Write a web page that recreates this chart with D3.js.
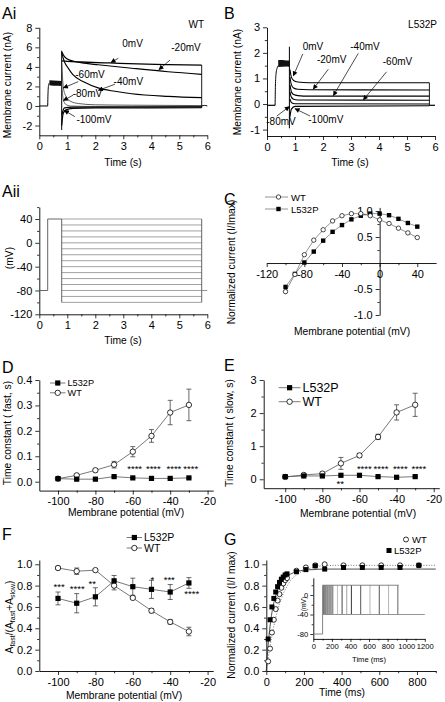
<!DOCTYPE html>
<html><head><meta charset="utf-8">
<script src="https://cdn.jsdelivr.net/npm/d3@7"></script>
<style>
body{margin:0;background:#fff}
svg{display:block}
text{font-family:"Liberation Sans",Arial,Helvetica,sans-serif}
</style></head>
<body><svg id="c" width="445" height="702"></svg>
<script>
// ======================= DATA =======================
// Panel Ai (WT currents): [time s, current nA]
const aiBaseline = [[0,0],[0.3,0]];
const aiRise = [[0.3,0],[0.31,1.2],[0.33,2.1],[0.36,2.35]];
const aiBandTime = [0.36,0.5,0.65,0.8];
const aiBandTop = [2.62,2.6,2.58,2.56];
const aiBandBottom = [2.12,2.08,2.06,2.04];
const aiSpike = [[0.8,-2.45],[0.8,5.65]];
const ai0mV = [[0.8,4.62],[1.0,4.56],[1.5,4.5],[2.5,4.4],[3.5,4.3],[4.5,4.24],[5.8,4.18]];
const aiM20 = [[0.8,5.55],[0.9,5.05],[1.0,4.8],[1.2,4.6],[1.6,4.38],[2.1,4.22],[3.3,3.86],[4.6,3.5],[5.8,3.24]];
const aiM40 = [[0.8,5.4],[0.9,4.5],[1.05,3.8],[1.2,3.2],[1.6,2.45],[2.1,1.85],[2.7,1.5],[3.3,1.25],[4.6,0.98],[5.8,0.85]];
const aiM60 = [[0.8,4.4],[0.86,1.85],[0.95,1.0],[1.1,0.5],[1.4,0.25],[2.0,0.12],[3.3,0.08],[5.8,0.04]];
const aiM80 = [[0.8,2.2],[0.86,0.6],[0.95,0.15],[1.1,0.0],[2.0,-0.05],[5.8,-0.05]];
const aiM90 = [[0.8,-0.9],[0.9,-0.2],[1.2,-0.12],[5.8,-0.1]];
const aiM100 = [[0.8,-2.0],[0.85,-0.8],[0.95,-0.4],[1.2,-0.25],[2.0,-0.2],[5.8,-0.18]];
const aiReturn = [[5.8,4.18],[5.8,-0.2]];
const aiTail = [[5.8,0],[5.9,0.06],[6.0,0]];
// Ai labels: [text, labelT, labelI, arrowFromT, arrowFromI, arrowToT, arrowToI]
const aiLabels = [
  ["0mV",3.33,6.0,2.82,4.88,2.56,4.45],
  ["-20mV",5.24,5.63,4.67,4.7,4.27,3.72],
  ["-60mV",1.81,2.87,1.39,2.49,0.86,1.85],
  ["-40mV",3.18,2.1,2.7,2.22,2.11,1.6],
  ["-80mV",1.72,0.87,1.21,1.12,0.86,0.55],
  ["-100mV",1.95,-1.79,1.27,-1.09,0.89,-0.45]
];

// Panel B (L532P currents): [time s, current nA]
const bBaseline = [[0,-0.05],[0.29,-0.05]];
const bRise = [[0.29,-0.05],[0.3,0.7],[0.32,1.15],[0.36,1.4],[0.4,1.5]];
const bBandTime = [0.4,0.55,0.7,0.8];
const bBandTop = [1.72,1.72,1.7,1.7];
const bBandBottom = [1.45,1.46,1.47,1.46];
const bSpike = [[0.8,-0.95],[0.8,2.24]];
const b0mV = [[0.82,1.35],[0.87,1.05],[0.95,0.92],[1.1,0.86],[1.5,0.83],[5.8,0.83]];
const bM20 = [[0.82,1.05],[0.87,0.76],[0.95,0.63],[1.1,0.58],[1.5,0.56],[5.8,0.55]];
const bM40 = [[0.82,0.75],[0.87,0.48],[0.95,0.37],[1.1,0.33],[1.5,0.31],[5.8,0.31]];
const bM60 = [[0.82,0.48],[0.87,0.27],[0.95,0.19],[1.1,0.16],[5.8,0.15]];
const bM80 = [[0.82,0.2],[0.87,0.06],[1.0,0.01],[5.8,0.0]];
const bM100 = [[0.82,-0.5],[0.87,-0.2],[1.0,-0.09],[5.8,-0.07]];
const bReturn = [[5.8,0.83],[5.8,-0.07]];
const bTail = [[5.8,-0.05],[6.0,-0.05]];
const bLabels = [
  ["0mV",1.64,2.13,1.28,1.96,0.94,1.1],
  ["-20mV",2.31,1.61,2.19,1.36,1.65,0.58],
  ["-40mV",3.5,2.11,3.26,1.98,2.37,0.33],
  ["-60mV",4.66,1.52,4.27,1.26,3.44,0.16],
  ["-80mV",0.5,-0.82,0.35,-0.47,0.8,-0.1],
  ["-100mV",2.1,-0.74,1.54,-0.47,1.0,-0.18]
];

// Panel Aii protocol
const protoHold = -80;
const protoPre = 40;
const protoTimes = [0, 0.3, 0.8, 5.8, 6.0];
const protoSteps = [-100,-90,-80,-70,-60,-50,-40,-30,-20,-10,0,10,20,30,40];

// Panel C: normalized I-V
const cVoltage = [-100,-90,-80,-70,-60,-50,-40,-30,-20,-10,0,10,20,30,40];
const cWT =    [-0.55,-0.22,0.16,0.44,0.64,0.81,0.91,0.95,0.95,0.91,0.83,0.76,0.67,0.58,0.49];
const cWTerr = [0.05,0.03,0.02,0.02,0.02,0.02,0.01,0.01,0.01,0.01,0.01,0.01,0.01,0.01,0.02];
const cL532P = [-0.46,-0.21,0.01,0.22,0.43,0.6,0.73,0.84,0.91,0.95,0.95,0.92,0.85,0.77,0.7];
const cL532Perr = [0.04,0.02,0.02,0.02,0.02,0.02,0.01,0.01,0.01,0.01,0.01,0.01,0.01,0.02,0.03];

// Panels D, E, F
const dfVoltage = [-100,-90,-80,-70,-60,-50,-40,-30];
const dWT = [0.012,0.025,0.045,0.067,0.118,0.18,0.272,0.302];
const dWTerr = [0.002,0.004,0.006,0.013,0.02,0.025,0.048,0.062];
const dL532P = [0.012,0.010,0.010,0.020,0.015,0.013,0.013,0.015];
const dL532Perr = [0.001,0.001,0.001,0.002,0.001,0.001,0.001,0.001];
const dStars = [["****",-59,0.059],["****",-49,0.059],["****",-38,0.059],["****",-29,0.059]];

const eWT = [0.07,0.13,0.17,0.48,0.72,1.28,2.02,2.25];
const eWTerr = [0.02,0.03,0.04,0.18,0.06,0.08,0.23,0.35];
const eL532P = [0.08,0.1,0.1,0.12,0.12,0.08,0.06,0.08];
const eL532Perr = [0.01,0.01,0.01,0.01,0.01,0.01,0.01,0.01];
const eStars = [["**",-70.4,-0.09],["****",-57.4,0.36],["****",-48.4,0.36],["****",-38,0.36],["****",-28,0.36]];

const fWT = [0.965,0.935,0.945,0.80,0.685,0.565,0.46,0.37];
const fWTerr = [0.015,0.03,0.01,0.04,0.01,0.02,0.02,0.04];
const fL532P = [0.68,0.635,0.695,0.845,0.79,0.765,0.74,0.825];
const fL532Perr = [0.06,0.09,0.085,0.05,0.08,0.085,0.07,0.05];
const fStars = [["***",-99.4,0.806],["****",-89.7,0.785],["**",-81.7,0.837],["*",-49.6,0.874],["***",-40.5,0.874],["****",-28.5,0.738]];

// Panel G: recovery from inactivation
const gTime = [10,20,30,40,50,60,70,80,90,100,110,160,210,260,310,410,510,610,710,810];
const gWT =    [0.09,0.21,0.36,0.48,0.58,0.66,0.72,0.78,0.82,0.85,0.87,0.94,0.97,0.99,1.0,0.99,0.99,0.99,0.99,0.99];
const gL532P = [0.30,0.48,0.60,0.68,0.74,0.79,0.83,0.86,0.88,0.90,0.91,0.93,0.95,0.985,0.955,0.97,0.97,0.97,0.97,0.99];
const gFitTime = [0,10,20,30,40,60,80,100,130,160,200,250,300,400,900];
const gFitWT =    [0,0.12,0.23,0.33,0.42,0.57,0.68,0.76,0.85,0.9,0.94,0.97,0.985,0.99,0.99];
const gFitL532P = [0,0.25,0.42,0.55,0.64,0.76,0.83,0.87,0.91,0.93,0.945,0.95,0.955,0.955,0.955];
// inset protocol (ms, mV)
const inHold = -80, inPulse = 20, inInter = -40;
const inTimes = [0, 100, 920, 1200];
const inTestOnsets = [110,120,130,140,150,160,170,180,190,200,210,260,310,360,410,510,610,710,810,910];

// ======================= DRAWING =======================
const FONT = '"Liberation Sans",Arial,Helvetica,sans-serif';
const svg = d3.select('#c');
svg.append('rect').attr('width',445).attr('height',702).attr('fill','#fff');
const defs = svg.append('defs');
defs.append('marker').attr('id','arr').attr('viewBox','0 0 10 10').attr('refX',9).attr('refY',5)
  .attr('markerWidth',6).attr('markerHeight',5).attr('markerUnits','userSpaceOnUse')
  .attr('orient','auto').append('path').attr('d','M0,0L10,5L0,10z').attr('fill','#000');

function axis(gen, scale, tr, majors, minors, fmt, fs, size) {
  size = size || 4;
  const g = svg.append('g').attr('transform', tr);
  if (minors && minors.length) {
    const m = svg.append('g').attr('transform', tr)
      .call(gen(scale).tickValues(minors).tickSize(size*0.55).tickSizeOuter(0).tickFormat(''));
    m.select('.domain').remove();
    m.selectAll('line').attr('stroke','#000').attr('stroke-width',0.8);
  }
  g.call(gen(scale).tickValues(majors).tickSize(size).tickSizeOuter(0).tickPadding(fs>9?3:2).tickFormat(fmt));
  g.attr('font-family', FONT).attr('font-size', fs);
  g.selectAll('text').attr('fill','#000');
  g.selectAll('line').attr('stroke','#000').attr('stroke-width',0.8);
  g.select('.domain').attr('stroke','#000').attr('stroke-width',0.9);
  return g;
}
function text(x, y, s, fs, anchor, rot, weight) {
  const t = svg.append('text').attr('font-size', fs).attr('text-anchor', anchor||'start').attr('fill','#000');
  if (rot) t.attr('transform', `translate(${x},${y}) rotate(${rot})`); else t.attr('x',x).attr('y',y);
  if (weight) t.attr('font-weight',weight);
  t.text(s);
  return t;
}
function path(pts, x, y, stroke, w, curve, dash) {
  const ln = d3.line().x(d=>x(d[0])).y(d=>y(d[1])).curve(curve||d3.curveLinear);
  const p = svg.append('path').attr('d', ln(pts)).attr('fill','none').attr('stroke',stroke).attr('stroke-width',w);
  if (dash) p.attr('stroke-dasharray', dash);
  return p;
}
const fmtInt = d => String(d);
const fmt1 = d => d.toFixed(1);
const LT = 11, TT = 10.3;

// ---------- Panel Ai ----------
{
  const x = d3.scaleLinear([0,6],[39.3,207.3]);
  const y = d3.scaleLinear([-3,8.05],[135.3,27.3]);
  axis(d3.axisBottom, x, `translate(0,${y(-3)})`, [0,1,2,3,4,5,6], [0.5,1.5,2.5,3.5,4.5,5.5], fmtInt, LT);
  axis(d3.axisLeft, y, `translate(${x(0)},0)`, [-2,0,2,4,6,8], [-1,1,3,5,7], fmtInt, LT);
  text(2,19,'Ai',16);
  text(204,28,'WT',10,'end');
  text(11,85,'Membrane current (nA)',TT,'middle',-90);
  text(123,166,'Time (s)',TT,'middle');
  path(aiBaseline,x,y,'#000',1);
  path(aiRise,x,y,'#000',1,d3.curveMonotoneX);
  const band = aiBandTime.map((t,i)=>[t,aiBandTop[i],aiBandBottom[i]]);
  svg.append('path').attr('d', d3.area().x(d=>x(d[0])).y0(d=>y(d[2])).y1(d=>y(d[1]))(band)).attr('fill','#111');
  path(aiSpike,x,y,'#000',1);
  [[ai0mV,'#000',1.3],[aiM20,'#000',1.2],[aiM40,'#000',1.1],[aiM60,'#333',0.8],[aiM80,'#444',0.8],[aiM90,'#000',1.2],[aiM100,'#000',1.2]]
    .forEach(([d,c,w])=>path(d,x,y,c,w,d3.curveMonotoneX));
  path(aiReturn,x,y,'#000',0.9);
  path(aiTail,x,y,'#000',1,d3.curveMonotoneX);
  aiLabels.forEach(a=>{
    text(x(a[1]),y(a[2]),a[0],10,'middle');
    svg.append('line').attr('x1',x(a[3])).attr('y1',y(a[4])).attr('x2',x(a[5])).attr('y2',y(a[6]))
      .attr('stroke','#000').attr('stroke-width',0.7).attr('marker-end','url(#arr)');
  });
}

// ---------- Panel B ----------
{
  const x = d3.scaleLinear([0,6],[267,435]);
  const y = d3.scaleLinear([-1.25,3],[136,27.3]);
  axis(d3.axisBottom, x, `translate(0,${y(-1.25)})`, [0,1,2,3,4,5,6], [0.5,1.5,2.5,3.5,4.5,5.5], fmtInt, LT);
  axis(d3.axisLeft, y, `translate(${x(0)},0)`, [-1,0,1,2,3], [-0.5,0.5,1.5,2.5], fmtInt, LT);
  text(224,19,'B',16);
  text(437,28,'L532P',10,'end');
  text(241,82,'Membrane current (nA)',TT,'middle',-90);
  text(350,166,'Time (s)',TT,'middle');
  path(bBaseline,x,y,'#000',1.2);
  path(bRise,x,y,'#000',1,d3.curveMonotoneX);
  const band = bBandTime.map((t,i)=>[t,bBandTop[i],bBandBottom[i]]);
  svg.append('path').attr('d', d3.area().x(d=>x(d[0])).y0(d=>y(d[2])).y1(d=>y(d[1]))(band)).attr('fill','#111');
  path(bSpike,x,y,'#000',1);
  [b0mV,bM20,bM40,bM60,bM80,bM100].forEach(d=>path(d,x,y,'#000',1.1,d3.curveMonotoneX));
  path(bReturn,x,y,'#000',0.9);
  path(bTail,x,y,'#000',1.2);
  bLabels.forEach(a=>{
    text(x(a[1]),y(a[2]),a[0],10,'middle');
    svg.append('line').attr('x1',x(a[3])).attr('y1',y(a[4])).attr('x2',x(a[5])).attr('y2',y(a[6]))
      .attr('stroke','#000').attr('stroke-width',0.7).attr('marker-end','url(#arr)');
  });
}

// ---------- Panel Aii ----------
{
  const x = d3.scaleLinear([0,6],[39.3,207.3]);
  const y = d3.scaleLinear([-120,60],[314.3,207.1]);
  axis(d3.axisBottom, x, `translate(0,${y(-120)})`, [0,1,2,3,4,5,6], [0.5,1.5,2.5,3.5,4.5,5.5], fmtInt, LT);
  axis(d3.axisLeft, y, `translate(${x(0)},0)`, [-120,-80,-40,0,40], [-100,-60,-20,20,60], fmtInt, LT);
  text(2,197,'Aii',16);
  text(13,258,'(mV)',TT,'middle',-90);
  text(123,344,'Time (s)',TT,'middle');
  const [t0,t1,t2,t3,t4] = protoTimes;
  protoSteps.forEach(v=>path([[t2,v],[t3,v]],x,y,'#8a8a8a',0.8));
  path([[t0,protoHold],[t1,protoHold],[t1,protoPre],[t2,protoPre]],x,y,'#555',0.9);
  path([[t2,protoPre],[t2,protoSteps[0]]],x,y,'#555',0.9);
  path([[t3,protoPre],[t3,protoSteps[0]]],x,y,'#555',0.9);
  path([[t3,protoHold],[t4,protoHold]],x,y,'#777',0.8);
}

// ---------- Panel C ----------
{
  const x = d3.scaleLinear([-120,60],[266.7,436.1]);
  const y = d3.scaleLinear([-1,1.07],[315,207.4]);
  axis(d3.axisBottom, x, `translate(0,${y(0)})`, [-120,-80,-40,0,40], [-100,-60,-20,20], fmtInt, LT);
  axis(d3.axisLeft, y, `translate(${x(0)},0)`, [-1,-0.5,0.5,1], [-0.75,-0.25,0.25,0.75], fmt1, LT);
  text(224,205,'C',16);
  text(235,262,'Normalized current (I/Imax)',TT,'middle',-90);
  text(352,335,'Membrane potential (mV)',TT,'middle');
  const wt = cVoltage.map((v,i)=>[v,cWT[i]]), lp = cVoltage.map((v,i)=>[v,cL532P[i]]);
  path(wt,x,y,'#666',0.7); path(lp,x,y,'#666',0.7);
  cVoltage.forEach((v,i)=>{
    path([[v,cWT[i]-cWTerr[i]],[v,cWT[i]+cWTerr[i]]],x,y,'#555',0.6);
    path([[v,cL532P[i]-cL532Perr[i]],[v,cL532P[i]+cL532Perr[i]]],x,y,'#555',0.6);
  });
  svg.selectAll(null).data(lp).enter().append('rect').attr('x',d=>x(d[0])-2.2).attr('y',d=>y(d[1])-2.2)
    .attr('width',4.4).attr('height',4.4).attr('fill','#000');
  svg.selectAll(null).data(wt).enter().append('circle').attr('cx',d=>x(d[0])).attr('cy',d=>y(d[1])).attr('r',2.2)
    .attr('fill','#fff').attr('stroke','#000').attr('stroke-width',0.7);
  // legend
  svg.append('line').attr('x1',265).attr('x2',288).attr('y1',197).attr('y2',197).attr('stroke','#666').attr('stroke-width',0.7);
  svg.append('circle').attr('cx',278.5).attr('cy',197).attr('r',2.2).attr('fill','#fff').attr('stroke','#000').attr('stroke-width',0.7);
  text(291,200.5,'WT',9.5);
  svg.append('line').attr('x1',265).attr('x2',288).attr('y1',209).attr('y2',209).attr('stroke','#666').attr('stroke-width',0.7);
  svg.append('rect').attr('x',276.3).attr('y',206.8).attr('width',4.4).attr('height',4.4).attr('fill','#000');
  text(291,212.5,'L532P',9.5);
}

// ---------- helper for D/E/F ----------
function dotPanel(x, y, wtV, wtE, lpV, lpE, stars) {
  const wt = dfVoltage.map((v,i)=>[v,wtV[i]]), lp = dfVoltage.map((v,i)=>[v,lpV[i]]);
  dfVoltage.forEach((v,i)=>{
    [[wtV,wtE],[lpV,lpE]].forEach(([V,E])=>{
      const top=y(V[i]+E[i]), bot=y(V[i]-E[i]), cx=x(v);
      svg.append('line').attr('x1',cx).attr('x2',cx).attr('y1',top).attr('y2',bot).attr('stroke','#444').attr('stroke-width',0.8);
      [top,bot].forEach(yy=>svg.append('line').attr('x1',cx-2.5).attr('x2',cx+2.5).attr('y1',yy).attr('y2',yy).attr('stroke','#444').attr('stroke-width',0.8));
    });
  });
  path(lp,x,y,'#555',0.8); path(wt,x,y,'#555',0.8);
  svg.selectAll(null).data(wt).enter().append('circle').attr('cx',d=>x(d[0])).attr('cy',d=>y(d[1])).attr('r',2.7)
    .attr('fill','#fff').attr('stroke','#000').attr('stroke-width',0.8);
  svg.selectAll(null).data(lp).enter().append('rect').attr('x',d=>x(d[0])-2.6).attr('y',d=>y(d[1])-2.6)
    .attr('width',5.2).attr('height',5.2).attr('fill','#000');
  stars.forEach(s=>text(x(s[1]),y(s[2])+5,s[0],9.5,'middle'));
}
function legendRow(x1, x2, yy, kind, label, fs) {
  svg.append('line').attr('x1',x1).attr('x2',x2).attr('y1',yy).attr('y2',yy).attr('stroke','#555').attr('stroke-width',0.8);
  const cx=(x1+x2)/2;
  if (kind==='sq') svg.append('rect').attr('x',cx-2.6).attr('y',yy-2.6).attr('width',5.2).attr('height',5.2).attr('fill','#000');
  else svg.append('circle').attr('cx',cx).attr('cy',yy).attr('r',2.7).attr('fill','#fff').attr('stroke','#000').attr('stroke-width',0.8);
  text(x2+2,yy+fs*0.36,label,fs);
}

// ---------- Panel D ----------
{
  const x = d3.scaleLinear([-110,-17],[39.3,213.2]);
  const y = d3.scaleLinear([-0.035,0.4],[490.6,380]);
  axis(d3.axisBottom, x, `translate(0,${y(-0.035)})`, [-100,-80,-60,-40,-20], [-90,-70,-50,-30], fmtInt, LT);
  axis(d3.axisLeft, y, `translate(${x(-110)},0)`, [0,0.1,0.2,0.3,0.4], [0.05,0.15,0.25,0.35], fmt1, LT);
  text(2,373,'D',16);
  text(11,433,'Time constant ( fast, s)',TT,'middle',-90);
  text(126,516,'Membrane potential (mV)',TT,'middle');
  dotPanel(x,y,dWT,dWTerr,dL532P,dL532Perr,dStars);
  legendRow(50,65.5,383,'sq','L532P',9.2);
  legendRow(50,65.5,392.8,'ci','WT',9.2);
}

// ---------- Panel E ----------
{
  const x = d3.scaleLinear([-111.6,-17],[263.7,439.3]);
  const y = d3.scaleLinear([-0.27,3],[488.2,380]);
  axis(d3.axisBottom, x, `translate(0,${y(-0.27)})`, [-100,-80,-60,-40,-20], [-90,-70,-50,-30], fmtInt, LT);
  axis(d3.axisLeft, y, `translate(${x(-111.6)},0)`, [0,1,2,3], [0.5,1.5,2.5], fmtInt, LT);
  text(224,371,'E',16);
  text(233,433,'Time constant ( slow, s)',TT,'middle',-90);
  text(358,517,'Membrane potential (mV)',TT,'middle');
  dotPanel(x,y,eWT,eWTerr,eL532P,eL532Perr,eStars);
  legendRow(278.7,300.5,387.7,'sq','L532P',12.5);
  legendRow(278.7,300.5,401.7,'ci','WT',12.5);
}

// ---------- Panel F ----------
{
  const x = d3.scaleLinear([-110,-17],[39.3,213.2]);
  const y = d3.scaleLinear([0,1.04],[671,560]);
  axis(d3.axisBottom, x, `translate(0,${y(0)})`, [-100,-80,-60,-40,-20], [-90,-70,-50,-30], fmtInt, LT);
  axis(d3.axisLeft, y, `translate(${x(-110)},0)`, [0,0.2,0.4,0.6,0.8,1.0], [0.1,0.3,0.5,0.7,0.9], fmt1, LT);
  text(2,540,'F',16);
  const t = svg.append('text').attr('transform','translate(13,617) rotate(-90)').attr('text-anchor','middle').attr('font-size',TT).attr('fill','#000');
  t.append('tspan').text('A');
  t.append('tspan').attr('dy',2).attr('font-size',7).text('fast');
  t.append('tspan').attr('dy',-2).text('/(A');
  t.append('tspan').attr('dy',2).attr('font-size',7).text('fast');
  t.append('tspan').attr('dy',-2).text('+A');
  t.append('tspan').attr('dy',2).attr('font-size',7).text('slow');
  t.append('tspan').attr('dy',-2).text(')');
  text(124,699,'Membrane potential (mV)',TT,'middle');
  dotPanel(x,y,fWT,fWTerr,fL532P,fL532Perr,fStars);
  legendRow(126.7,142,537.5,'sq','L532P',10.5);
  legendRow(126.7,142,548,'ci','WT',10.5);
}

// ---------- Panel G ----------
{
  const x = d3.scaleLinear([0,900],[266.3,435.8]);
  const y = d3.scaleLinear([0,1.04],[671,560]);
  axis(d3.axisBottom, x, `translate(0,${y(0)})`, [0,200,400,600,800], [100,300,500,700,900], fmtInt, LT);
  axis(d3.axisLeft, y, `translate(${x(0)},0)`, [0,0.2,0.4,0.6,0.8,1.0], [0.1,0.3,0.5,0.7,0.9], fmt1, LT);
  text(224,545,'G',16);
  text(235,615,'Normalized current (I/I max)',TT,'middle',-90);
  text(342,696,'Time (ms)',TT,'middle');
  path(gFitTime.map((t,i)=>[t,gFitWT[i]]),x,y,'#555',0.8,d3.curveMonotoneX,'1,1.6');
  path(gFitTime.map((t,i)=>[t,gFitL532P[i]]),x,y,'#222',0.8,d3.curveMonotoneX);
  const wt = gTime.map((t,i)=>[t,gWT[i]]), lp = gTime.map((t,i)=>[t,gL532P[i]]);
  svg.selectAll(null).data(wt).enter().append('circle').attr('cx',d=>x(d[0])).attr('cy',d=>y(d[1])).attr('r',2.5)
    .attr('fill','#fff').attr('stroke','#000').attr('stroke-width',0.8);
  svg.selectAll(null).data(lp).enter().append('rect').attr('x',d=>x(d[0])-2.5).attr('y',d=>y(d[1])-2.5)
    .attr('width',5).attr('height',5).attr('fill','#000');
  // legend
  svg.append('circle').attr('cx',406).attr('cy',539.5).attr('r',2.5).attr('fill','#fff').attr('stroke','#000').attr('stroke-width',0.8);
  text(412,543,'WT',9.5);
  svg.append('rect').attr('x',386.5).attr('y',548).attr('width',5).attr('height',5).attr('fill','#000');
  text(394,554,'L532P',9.5);
  // inset
  const ix = d3.scaleLinear([0,1200],[313.3,424.8]);
  const iy = d3.scaleLinear([-90,35],[638.9,577.9]);
  axis(d3.axisBottom, ix, `translate(0,${iy(-90)})`, [0,200,400,600,800,1000,1200], [100,300,500,700,900,1100], fmtInt, 7.6, 3);
  axis(d3.axisLeft, iy, `translate(${ix(0)},0)`, [-80,-40,0], [-60,-20,20], fmtInt, 7.6, 3);
  text(306,604,'(mV)',6.8,'middle',-90);
  text(369,662,'Time (ms)',7.6,'middle');
  const shades = ['#666','#777','#666','#888','#666','#777','#888','#666','#777','#888','#666','#bbb','#333','#999','#222','#444','#aaa','#444','#aaa','#555'];
  inTestOnsets.forEach((t,i)=>path([[t,inInter],[t,inPulse]],ix,iy,shades[i],0.9));
  path([[inTimes[0],inHold],[inTimes[1],inHold],[inTimes[1],inPulse],[inTimes[2],inPulse]],ix,iy,'#777',0.9);
  path([[inTimes[1],inInter],[inTimes[3],inInter]],ix,iy,'#888',0.9);
}
</script></body></html>
